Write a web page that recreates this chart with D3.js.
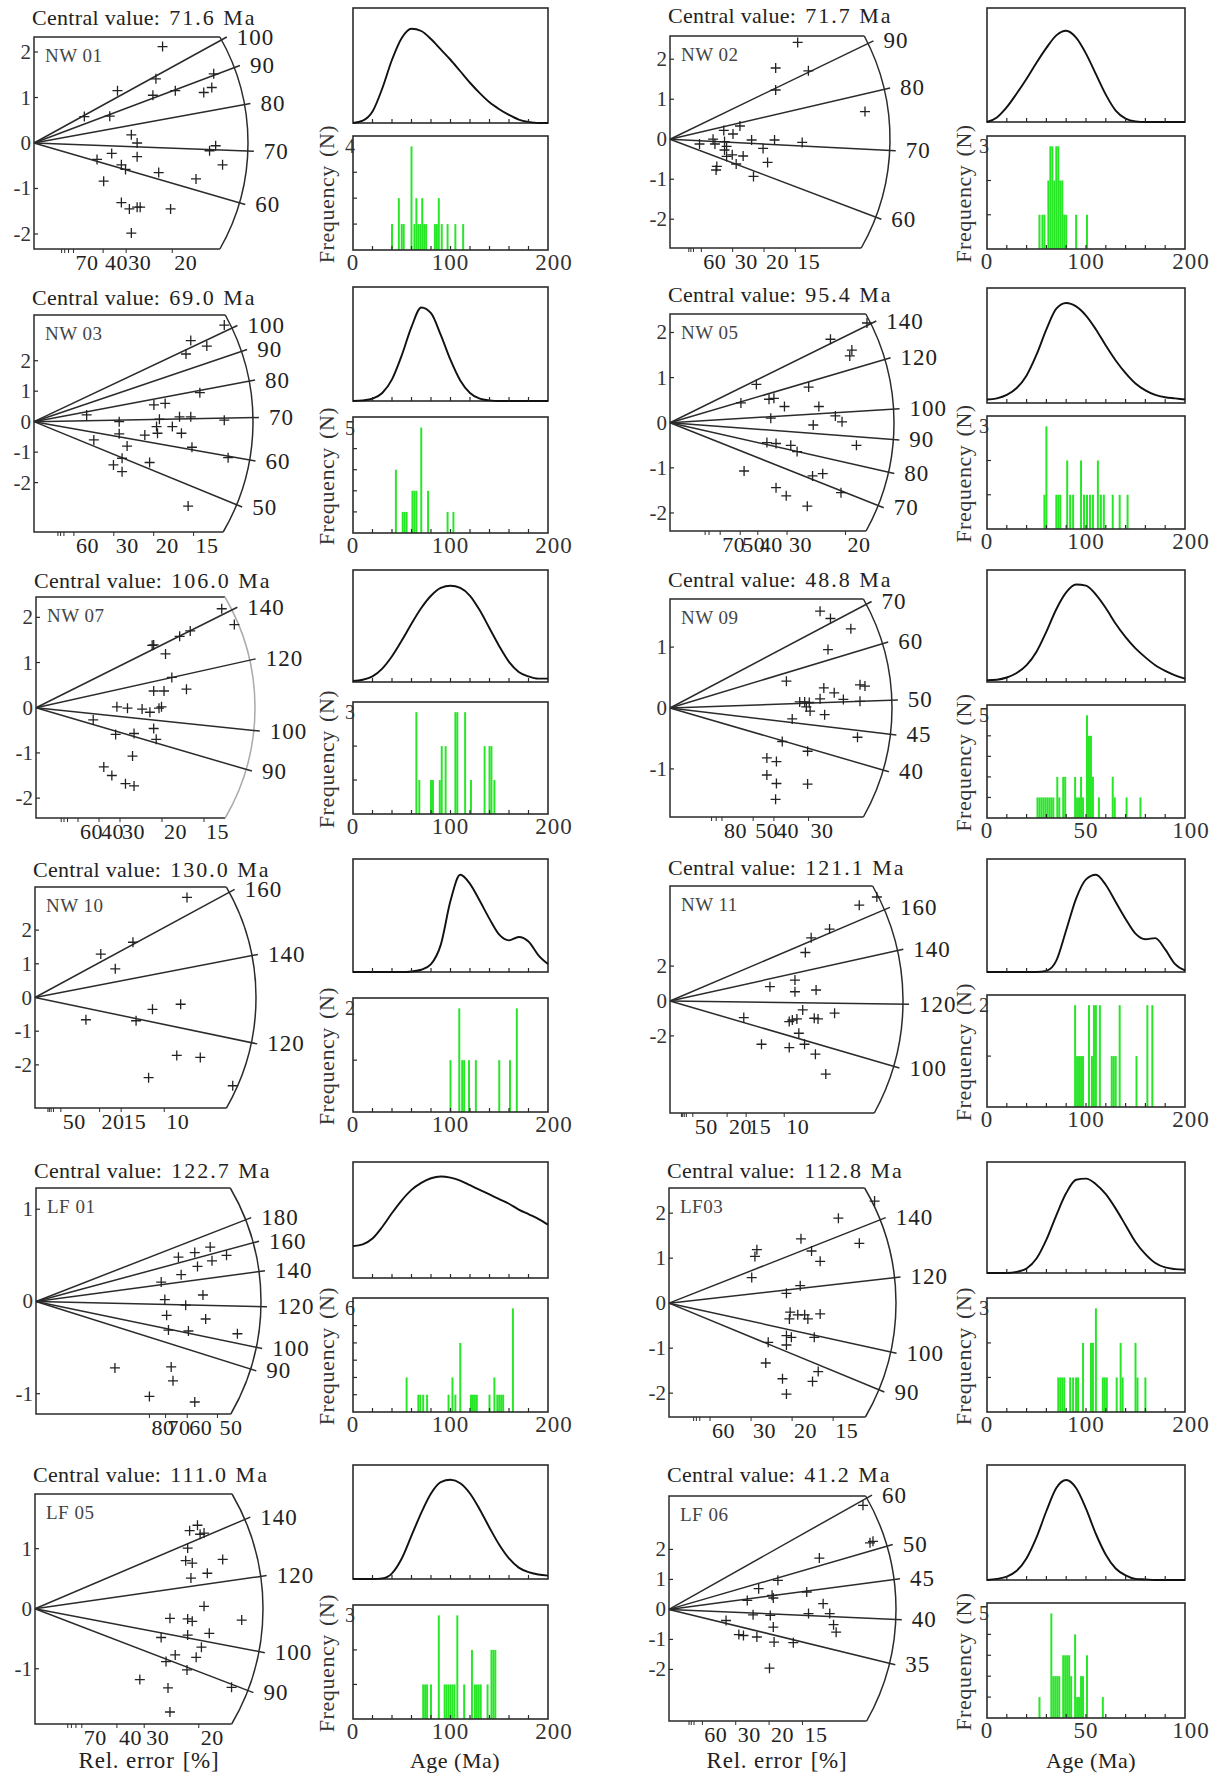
<!DOCTYPE html>
<html lang="en">
<head>
<meta charset="UTF-8">
<title>Radial plots and age spectra</title>
<script src="https://d3js.org/d3.v7.min.js"></script>
<style>
  body { margin: 0; background: #fff; }
  svg { display: block; font-family: "Liberation Serif", "DejaVu Serif", serif; }
</style>
</head>
<body>
<svg id="chart" width="1219" height="1776"></svg>
<script>
// ---------- data ----------
const samples = ["NW 01", "NW 02", "NW 03", "NW 05", "NW 07", "NW 09",
                 "NW 10", "NW 11", "LF 01", "LF03", "LF 05", "LF 06"];
const centralValues = [71.6, 71.7, 69.0, 95.4, 106.0, 48.8, 130.0, 121.1, 122.7, 112.8, 111.0, 41.2];

// ages (Ma) of the radial lines
const radialAges = [
  [100, 90, 80, 70, 60], [90, 80, 70, 60], [100, 90, 80, 70, 60, 50], [140, 120, 100, 90, 80, 70],
  [140, 120, 100, 90], [70, 60, 50, 45, 40], [160, 140, 120], [160, 140, 120, 100],
  [180, 160, 140, 120, 100, 90], [140, 120, 100, 90], [140, 120, 100, 90], [60, 50, 45, 40, 35]
];
// standardised estimate axis
const yDomains = [
  [-2.33, 2.33], [-2.72, 2.58], [-3.62, 3.50], [-2.40, 2.41], [-2.44, 2.45], [-1.79, 1.79],
  [-3.28, 3.28], [-6.42, 6.59], [-1.22, 1.23], [-2.53, 2.56], [-1.92, 1.91], [-3.72, 3.78]
];
const yTicks = [
  [-2, -1, 0, 1, 2], [-2, -1, 0, 1, 2], [-2, -1, 0, 1, 2], [-2, -1, 0, 1, 2], [-2, -1, 0, 1, 2], [-1, 0, 1],
  [-2, -1, 0, 1, 2], [-2, 0, 2], [-1, 0, 1], [-2, -1, 0, 1, 2], [-1, 0, 1], [-2, -1, 0, 1, 2]
];
// precision (1/sigma) reached at the arc
const precisionMax = [7.74, 11.7, 9.15, 6.38, 8.69, 5.34, 17.1, 20.4, 2.48, 9.22, 6.96, 11.34];
// relative error [%] tick labels and unlabelled ticks
const relErrTicks = [
  [70, 40, 30, 20], [60, 30, 20, 15], [60, 30, 20, 15], [70, 50, 40, 30, 20], [60, 40, 30, 20, 15], [80, 50, 40, 30],
  [50, 20, 15, 10], [50, 20, 15, 10], [80, 70, 60, 50], [60, 30, 20, 15], [70, 40, 30, 20], [60, 30, 20, 15]
];
const relErrMinor = [
  [100, 90, 80], [100, 90, 80], [100, 90, 80], [100, 90], [100, 90, 80], [100, 90],
  [100, 90, 80, 70], [100, 90, 80, 70], [], [100, 90, 80], [100, 90, 80], [100, 90, 80]
];
// single grains: [precision, standardised estimate]
const radialPoints = [
  [[4.65,2.12],[3.02,1.15],[4.41,1.41],[4.30,1.05],[5.11,1.15],[6.14,1.11],[6.43,1.22],[6.50,1.52],[1.82,0.58],[2.74,0.59],[3.52,0.18],[3.73,0.0],[2.81,-0.23],[3.73,-0.30],[2.28,-0.36],[3.16,-0.48],[3.31,-0.58],[4.51,-0.65],[2.52,-0.84],[5.86,-0.79],[6.35,-0.17],[6.57,-0.06],[6.82,-0.48],[3.16,-1.31],[3.45,-1.45],[3.73,-1.41],[3.84,-1.41],[4.94,-1.45],[3.52,-1.98]],
  [[6.79,2.42],[5.62,1.78],[7.36,1.71],[5.62,1.23],[10.37,0.69],[3.72,0.33],[2.86,0.22],[3.35,0.13],[2.29,0.0],[1.57,-0.12],[2.39,-0.12],[2.90,-0.06],[3.01,-0.18],[2.90,-0.27],[4.34,-0.02],[5.56,-0.02],[7.03,-0.08],[4.95,-0.23],[3.31,-0.39],[3.89,-0.42],[3.52,-0.62],[5.19,-0.58],[2.49,-0.68],[2.45,-0.77],[4.44,-0.93],[3.01,-0.43]],
  [[7.95,3.17],[6.55,2.66],[7.22,2.48],[6.35,2.22],[6.93,0.95],[5.01,0.55],[5.48,0.60],[2.20,0.22],[3.56,0.0],[5.24,0.08],[6.08,0.16],[6.55,0.16],[7.95,0.05],[5.12,-0.16],[5.78,-0.16],[3.56,-0.40],[4.63,-0.44],[5.16,-0.38],[6.16,-0.38],[2.50,-0.60],[3.89,-0.80],[6.60,-0.84],[8.11,-1.18],[3.68,-1.20],[4.83,-1.34],[3.32,-1.42],[3.68,-1.64],[6.44,-2.77]],
  [[5.61,2.21],[4.57,1.85],[5.18,1.61],[5.12,1.48],[2.46,0.85],[3.95,0.79],[2.02,0.44],[2.82,0.52],[2.96,0.54],[3.26,0.36],[4.24,0.36],[4.71,0.15],[4.90,0.02],[2.87,0.10],[4.08,-0.05],[2.76,-0.44],[3.02,-0.46],[3.44,-0.50],[3.62,-0.64],[5.31,-0.50],[2.11,-1.07],[4.06,-1.18],[4.35,-1.13],[4.87,-1.55],[3.02,-1.44],[3.31,-1.62],[3.91,-1.85]],
  [[7.37,2.19],[7.87,1.84],[6.12,1.70],[5.70,1.58],[4.67,1.39],[4.61,1.38],[5.14,1.19],[5.39,0.67],[5.97,0.41],[4.67,0.37],[5.08,0.37],[3.21,0.02],[3.63,-0.01],[4.21,-0.03],[4.52,-0.10],[4.88,-0.01],[4.98,0.02],[2.27,-0.27],[3.16,-0.59],[3.89,-0.57],[4.67,-0.46],[4.77,-0.70],[3.83,-1.07],[2.69,-1.31],[3.01,-1.50],[3.55,-1.68],[3.89,-1.73]],
  [[3.61,1.59],[3.86,1.47],[4.35,1.30],[3.80,0.96],[2.80,0.44],[3.70,0.33],[3.95,0.25],[4.57,0.38],[4.69,0.36],[3.61,0.15],[4.17,0.14],[4.57,0.11],[3.12,0.10],[3.24,0.10],[3.35,0.09],[3.28,0.02],[3.37,-0.05],[3.72,-0.11],[2.94,-0.18],[4.51,-0.48],[2.70,-0.55],[3.31,-0.71],[2.33,-0.82],[2.56,-0.88],[2.33,-1.10],[2.56,-1.24],[3.31,-1.25],[2.54,-1.50]],
  [[11.76,2.97],[5.09,1.29],[7.58,1.64],[6.21,0.85],[11.27,-0.20],[9.09,-0.35],[3.94,-0.66],[7.82,-0.69],[10.97,-1.72],[12.79,-1.78],[8.79,-2.38],[15.30,-2.62]],
  [[18.11,5.96],[16.57,5.49],[13.97,4.12],[12.36,3.62],[11.85,2.78],[8.75,0.82],[10.94,1.20],[10.94,0.53],[12.79,0.63],[11.62,-0.51],[14.41,-0.70],[6.46,-0.95],[10.44,-1.18],[10.71,-1.09],[11.11,-1.03],[12.63,-0.99],[12.96,-1.03],[11.28,-1.85],[8.01,-2.48],[10.44,-2.67],[11.78,-2.48],[12.73,-3.05],[13.64,-4.19]],
  [[1.57,0.48],[1.75,0.53],[1.92,0.59],[2.10,0.50],[1.94,0.44],[1.78,0.38],[1.60,0.29],[1.38,0.21],[1.42,0.02],[1.65,-0.04],[1.84,0.07],[1.44,-0.15],[1.87,-0.19],[1.46,-0.31],[1.68,-0.32],[2.22,-0.35],[0.87,-0.72],[1.49,-0.71],[1.51,-0.86],[1.25,-1.03],[1.75,-1.09]],
  [[8.35,2.27],[6.88,1.89],[5.36,1.43],[3.57,1.19],[3.49,1.04],[5.79,1.16],[6.14,0.93],[7.73,1.33],[3.36,0.57],[5.33,0.39],[4.77,0.22],[4.92,-0.20],[5.23,-0.26],[5.51,-0.26],[5.64,-0.35],[6.14,-0.24],[4.89,-0.35],[4.77,-0.72],[4.97,-0.76],[5.90,-0.76],[4.77,-0.93],[4.03,-0.87],[3.93,-1.33],[4.61,-1.68],[6.06,-1.52],[5.83,-1.74],[4.77,-2.02]],
  [[4.72,1.30],[4.96,1.39],[5.04,1.24],[5.16,1.26],[4.66,1.01],[4.60,0.80],[4.80,0.76],[5.73,0.82],[5.26,0.59],[4.76,0.51],[5.16,0.04],[4.12,-0.16],[4.66,-0.17],[4.80,-0.21],[6.31,-0.19],[3.85,-0.48],[4.66,-0.44],[5.32,-0.41],[5.08,-0.64],[4.28,-0.77],[4.92,-0.81],[4.00,-0.88],[4.64,-1.02],[3.20,-1.18],[4.06,-1.32],[6.00,-1.31],[4.12,-1.72]],
  [[9.69,3.47],[10.04,2.22],[10.19,2.27],[7.51,1.71],[5.44,0.97],[4.48,0.69],[5.15,0.47],[5.21,0.38],[6.88,0.58],[3.91,0.30],[7.70,0.19],[8.03,-0.14],[6.97,-0.14],[4.20,-0.18],[5.06,-0.20],[5.21,-0.59],[8.22,-0.51],[8.35,-0.76],[2.85,-0.37],[3.49,-0.84],[3.72,-0.87],[4.39,-0.92],[5.25,-1.09],[6.21,-1.11],[5.02,-1.96]]
];

// age axis of the spectra
const ageMax = [200, 200, 200, 200, 200, 100, 200, 200, 200, 200, 200, 100];
const densityAges200 = [0, 10, 20, 30, 40, 50, 60, 70, 80, 90, 100, 110, 120, 130, 140, 150, 160, 170, 180, 190, 200];
const densityAges100 = [0, 5, 10, 15, 20, 25, 30, 35, 40, 45, 50, 55, 60, 65, 70, 75, 80, 85, 90, 95, 100];
// probability density, relative to box height
const densities = [
  [0, 0.02, 0.10, 0.30, 0.55, 0.74, 0.82, 0.80, 0.73, 0.64, 0.55, 0.45, 0.35, 0.26, 0.18, 0.12, 0.07, 0.03, 0.01, 0, 0],
  [0, 0.04, 0.13, 0.25, 0.38, 0.52, 0.65, 0.76, 0.80, 0.74, 0.60, 0.42, 0.24, 0.10, 0.03, 0.005, 0, 0, 0, 0, 0],
  [0, 0.005, 0.02, 0.07, 0.19, 0.40, 0.65, 0.82, 0.77, 0.58, 0.36, 0.18, 0.07, 0.02, 0.005, 0, 0, 0, 0, 0, 0],
  [0.03, 0.04, 0.07, 0.13, 0.24, 0.42, 0.64, 0.82, 0.87, 0.84, 0.76, 0.64, 0.50, 0.37, 0.26, 0.17, 0.11, 0.07, 0.05, 0.04, 0.03],
  [0.01, 0.02, 0.05, 0.12, 0.23, 0.37, 0.52, 0.66, 0.77, 0.84, 0.86, 0.84, 0.77, 0.64, 0.48, 0.32, 0.18, 0.09, 0.05, 0.03, 0.03],
  [0.015, 0.02, 0.04, 0.08, 0.15, 0.27, 0.45, 0.65, 0.80, 0.87, 0.86, 0.78, 0.66, 0.52, 0.40, 0.30, 0.22, 0.15, 0.10, 0.06, 0.03],
  [0, 0, 0, 0, 0, 0, 0.005, 0.02, 0.07, 0.24, 0.63, 0.86, 0.78, 0.63, 0.47, 0.33, 0.28, 0.31, 0.27, 0.15, 0.07],
  [0, 0, 0, 0, 0, 0, 0.01, 0.10, 0.37, 0.65, 0.82, 0.86, 0.77, 0.62, 0.47, 0.34, 0.29, 0.30, 0.20, 0.07, 0.015],
  [0.275, 0.29, 0.34, 0.44, 0.56, 0.67, 0.76, 0.82, 0.86, 0.875, 0.865, 0.84, 0.80, 0.76, 0.72, 0.68, 0.64, 0.59, 0.55, 0.51, 0.46],
  [0, 0, 0, 0.01, 0.04, 0.13, 0.30, 0.52, 0.72, 0.84, 0.85, 0.80, 0.71, 0.58, 0.43, 0.28, 0.17, 0.09, 0.05, 0.035, 0.03],
  [0, 0, 0, 0.005, 0.05, 0.18, 0.38, 0.58, 0.75, 0.85, 0.87, 0.84, 0.75, 0.61, 0.45, 0.30, 0.18, 0.10, 0.06, 0.04, 0.03],
  [0, 0.01, 0.03, 0.08, 0.19, 0.37, 0.60, 0.80, 0.87, 0.80, 0.62, 0.40, 0.22, 0.10, 0.04, 0.01, 0.005, 0, 0, 0, 0]
];
// histogram bins: [bin start age (Ma), count]
const histBins = [
  [[39,1],[46,2],[49,1],[51,1],[59,4],[62,1],[64,2],[66,1],[68,1],[70,2],[72,1],[74,1],[83,1],[85,1],[87,2],[90,1],[96,1],[104,1],[112,1]],
  [[52,1],[55,1],[57,1],[61,2],[63,3],[65,3],[67,2],[69,3],[71,3],[73,2],[75,2],[77,1],[79,1],[89,1],[100,1]],
  [[43,3],[50,1],[52,1],[54,1],[60,2],[62,2],[64,2],[69,5],[76,2],[96,1],[102,1]],
  [[57,1],[59,3],[69,1],[71,1],[73,1],[80,2],[83,1],[86,1],[94,2],[97,1],[100,1],[103,1],[106,1],[111,2],[114,1],[117,1],[126,1],[133,1],[141,1]],
  [[64,3],[67,1],[79,1],[81,1],[88,1],[90,2],[94,2],[104,3],[106,3],[114,3],[120,1],[134,2],[139,2],[141,2],[144,1]],
  [[25,1],[26,1],[27,1],[28,1],[29,1],[30,1],[31,1],[32,1],[33,1],[35,2],[36,1],[38,2],[39,2],[44,2],[45,1],[46,1],[47,2],[48,1],[50,5],[51,4],[52,4],[53,2],[56,1],[63,2],[64,1],[70,1],[77,1]],
  [[99,1],[108,2],[111,1],[113,1],[118,1],[125,1],[149,1],[160,1],[167,2]],
  [[88,2],[90,1],[92,1],[94,1],[96,1],[102,2],[105,1],[107,2],[109,2],[113,2],[125,1],[127,1],[129,1],[133,2],[150,1],[161,2],[166,2]],
  [[54,2],[66,1],[68,1],[71,1],[75,1],[97,1],[101,2],[104,1],[109,4],[120,1],[122,1],[124,1],[126,1],[139,1],[144,2],[147,1],[149,1],[151,1],[153,1],[163,6]],
  [[71,1],[73,1],[75,1],[77,1],[83,1],[86,1],[89,1],[91,1],[96,2],[104,2],[106,2],[109,3],[116,1],[118,1],[120,1],[130,1],[134,2],[136,1],[149,2],[151,1],[159,1]],
  [[71,1],[73,1],[75,1],[79,1],[87,3],[93,1],[95,1],[97,1],[99,1],[101,1],[103,1],[106,3],[113,1],[121,2],[124,1],[126,1],[128,1],[130,1],[137,1],[141,2],[143,2],[145,2]],
  [[26,1],[32,5],[33,2],[34,2],[35,2],[36,2],[38,3],[39,3],[40,3],[41,3],[42,2],[44,4],[45,1],[46,1],[47,2],[48,2],[50,3],[58,1]]
];

// ---------- layout (pixels) ----------
const colL = {dx0: 353, dx1: 548, fx: 334};
const colR = {dx0: 987, dx1: 1185, fx: 971};
const layout = [
  {c: colL, left: 34,  title: 25,   top: 37,   bottom: 249,  R: 214, dTop: 8,    dBot: 123,  hTop: 136,  hBot: 250},
  {c: colR, left: 670, title: 23,   top: 36,   bottom: 248,  R: 220, dTop: 8,    dBot: 122,  hTop: 136,  hBot: 249},
  {c: colL, left: 34,  title: 305,  top: 315,  bottom: 532,  R: 219, dTop: 287,  dBot: 401,  hTop: 417,  hBot: 533},
  {c: colR, left: 670, title: 302,  top: 314,  bottom: 531,  R: 224, dTop: 288,  dBot: 403,  hTop: 416,  hBot: 529},
  {c: colL, left: 36,  title: 588,  top: 597,  bottom: 818,  R: 219, dTop: 570,  dBot: 682,  hTop: 702,  hBot: 814, arc: "#aaa"},
  {c: colR, left: 670, title: 587,  top: 599,  bottom: 817,  R: 222, dTop: 570,  dBot: 682,  hTop: 705,  hBot: 818},
  {c: colL, left: 35,  title: 877,  top: 887,  bottom: 1108, R: 221, dTop: 859,  dBot: 972,  hTop: 998,  hBot: 1112},
  {c: colR, left: 670, title: 875,  top: 886,  bottom: 1113, R: 233, dTop: 859,  dBot: 972,  hTop: 995,  hBot: 1107},
  {c: colL, left: 36,  title: 1178, top: 1188, bottom: 1414, R: 225, dTop: 1162, dBot: 1278, hTop: 1298, hBot: 1412},
  {c: colR, left: 669, title: 1178, top: 1188, bottom: 1417, R: 227, dTop: 1162, dBot: 1273, hTop: 1298, hBot: 1412},
  {c: colL, left: 35,  title: 1482, top: 1494, bottom: 1724, R: 228, dTop: 1465, dBot: 1579, hTop: 1605, hBot: 1719},
  {c: colR, left: 669, title: 1482, top: 1496, bottom: 1721, R: 227, dTop: 1465, dBot: 1580, hTop: 1603, hBot: 1718}
];

const ink = "#2b2b2b";
const green = "#26e626";
const svg = d3.select("#chart");
svg.append("rect").attr("width", 1219).attr("height", 1776).attr("fill", "#fff");

samples.forEach((name, i) => {
  const L = layout[i];
  const g = svg.append("g");

  // ---- radial plot ----
  const x = d3.scaleLinear().domain([0, precisionMax[i]]).range([L.left, L.left + L.R]);
  const y = d3.scaleLinear().domain(yDomains[i]).range([L.bottom, L.top]);
  const ox = x(0), oy = y(0);
  const edgeX = yy => ox + Math.sqrt(Math.max(0, L.R * L.R - (yy - oy) * (yy - oy)));
  const xt = edgeX(L.top), xb = edgeX(L.bottom);

  g.append("path")
    .attr("d", `M${xt},${L.top}H${ox}V${L.bottom}H${xb}`)
    .attr("fill", "none").attr("stroke", ink).attr("stroke-width", 1.5);
  g.append("path")
    .attr("d", `M${xt},${L.top}A${L.R},${L.R} 0 0 1 ${xb},${L.bottom}`)
    .attr("fill", "none").attr("stroke", L.arc || ink).attr("stroke-width", 1.5);

  radialAges[i].forEach(t => {
    const z = Math.log(t / centralValues[i]);
    const dx = x(1) - ox, dy = y(z) - oy;
    const len = Math.hypot(dx, dy);
    const ex = ox + dx / len * (L.R + 6), ey = oy + dy / len * (L.R + 6);
    g.append("line").attr("x1", ox).attr("y1", oy).attr("x2", ex).attr("y2", ey)
      .attr("stroke", ink).attr("stroke-width", 1.5);
    g.append("text").attr("x", ex + 10).attr("y", ey)
      .attr("dominant-baseline", "central").attr("font-size", 23).attr("letter-spacing", 1)
      .attr("fill", "#222").text(t);
  });

  yTicks[i].forEach(v => {
    g.append("line").attr("x1", ox).attr("x2", ox + 4).attr("y1", y(v)).attr("y2", y(v))
      .attr("stroke", ink).attr("stroke-width", 1.2);
    g.append("text").attr("x", ox - 3).attr("y", y(v))
      .attr("text-anchor", "end").attr("dominant-baseline", "central")
      .attr("font-size", 21).attr("fill", "#333").text(String(v));
  });

  relErrMinor[i].concat(relErrTicks[i]).forEach(e => {
    const px = x(100 / e);
    g.append("line").attr("x1", px).attr("x2", px).attr("y1", L.bottom).attr("y2", L.bottom + 4)
      .attr("stroke", ink).attr("stroke-width", 1);
  });
  relErrTicks[i].forEach(e => {
    g.append("text").attr("x", x(100 / e) + 2).attr("y", L.bottom + 21)
      .attr("font-size", 22).attr("letter-spacing", 0.5).attr("fill", "#222").text(e);
  });

  g.selectAll(".pt").data(radialPoints[i]).enter().append("path")
    .attr("d", d => {
      const px = x(d[0]), py = y(d[1]);
      return `M${px - 5},${py}H${px + 5}M${px},${py - 5}V${py + 5}`;
    })
    .attr("stroke", "#222").attr("stroke-width", 1.3).attr("fill", "none");

  g.append("text").attr("x", ox + 11).attr("y", L.top + 25)
    .attr("font-size", 19).attr("letter-spacing", 0.5).attr("fill", "#444").text(name);

  const title = g.append("text").attr("x", L.left - 2).attr("y", L.title)
    .attr("font-size", 22).attr("letter-spacing", 0.3).attr("fill", "#222");
  title.append("tspan").text("Central value:");
  title.append("tspan").attr("dx", 9).attr("letter-spacing", 2)
    .text(`${centralValues[i].toFixed(1)} Ma`);

  // ---- age spectrum ----
  const a = d3.scaleLinear().domain([0, ageMax[i]]).range([L.c.dx0, L.c.dx1]);
  const dy = d3.scaleLinear().domain([0, 1]).range([L.dBot, L.dTop]);
  const ages = ageMax[i] === 100 ? densityAges100 : densityAges200;
  const line = d3.line().x((d, k) => a(ages[k])).y(d => dy(d)).curve(d3.curveMonotoneX);

  g.append("rect").attr("x", L.c.dx0).attr("y", L.dTop)
    .attr("width", L.c.dx1 - L.c.dx0).attr("height", L.dBot - L.dTop)
    .attr("fill", "none").attr("stroke", ink).attr("stroke-width", 1.6);
  g.append("path").datum(densities[i]).attr("d", line)
    .attr("fill", "none").attr("stroke", "#111").attr("stroke-width", 1.9);

  const step = ageMax[i] / 10;
  const tickAges = d3.range(step, ageMax[i], step);

  // histogram
  const maxN = d3.max(histBins[i], d => d[1]);
  const hy = d3.scaleLinear().domain([0, maxN * 1.1]).range([L.hBot, L.hTop]);
  const bw = ageMax[i] / 100;
  g.selectAll(".bar").data(histBins[i]).enter().append("rect")
    .attr("x", d => a(d[0])).attr("width", d => a(d[0] + bw) - a(d[0]))
    .attr("y", d => hy(d[1])).attr("height", d => L.hBot - hy(d[1]))
    .attr("fill", green);
  g.append("rect").attr("x", L.c.dx0).attr("y", L.hTop)
    .attr("width", L.c.dx1 - L.c.dx0).attr("height", L.hBot - L.hTop)
    .attr("fill", "none").attr("stroke", ink).attr("stroke-width", 1.6);

  tickAges.forEach(t => {
    [L.dBot, L.hBot].forEach(yb => {
      g.append("line").attr("x1", a(t)).attr("x2", a(t)).attr("y1", yb).attr("y2", yb - 4)
        .attr("stroke", ink).attr("stroke-width", 1.2);
    });
  });
  d3.range(1, maxN).forEach(n => {
    g.append("line").attr("x1", L.c.dx0).attr("x2", L.c.dx0 + 4).attr("y1", hy(n)).attr("y2", hy(n))
      .attr("stroke", ink).attr("stroke-width", 1.2);
  });
  g.append("text").attr("x", L.c.dx0 + 2).attr("y", hy(maxN))
    .attr("text-anchor", "end").attr("dominant-baseline", "central")
    .attr("font-size", 20).attr("fill", "#333").text(maxN);

  [0, ageMax[i] / 2, ageMax[i]].forEach(t => {
    g.append("text").attr("x", a(t) + (t === ageMax[i] ? 6 : 0)).attr("y", L.hBot + 20)
      .attr("text-anchor", "middle").attr("font-size", 23).attr("letter-spacing", 1)
      .attr("fill", "#333").text(t);
  });

  const ft = g.append("text")
    .attr("transform", `translate(${L.c.fx},${(L.hTop + L.hBot) / 2 + 1}) rotate(-90)`)
    .attr("text-anchor", "middle").attr("font-size", 22).attr("fill", "#333")
    .attr("letter-spacing", 0.6);
  ft.append("tspan").text("Frequency");
  ft.append("tspan").attr("dx", 8).text("(N)");
});

// bottom axis titles
[[149, 777], [455, 1091]].forEach((xs, k) => {
  xs.forEach(cx => {
    const t = svg.append("text").attr("x", cx).attr("y", 1768)
      .attr("text-anchor", "middle").attr("font-size", k === 0 ? 23 : 22)
      .attr("letter-spacing", k === 0 ? 0.8 : 0.5).attr("fill", "#222");
    if (k === 0) {
      t.append("tspan").text("Rel. error");
      t.append("tspan").attr("dx", 8).text("[%]");
    } else {
      t.text("Age (Ma)");
    }
  });
});
</script>
</body>
</html>
